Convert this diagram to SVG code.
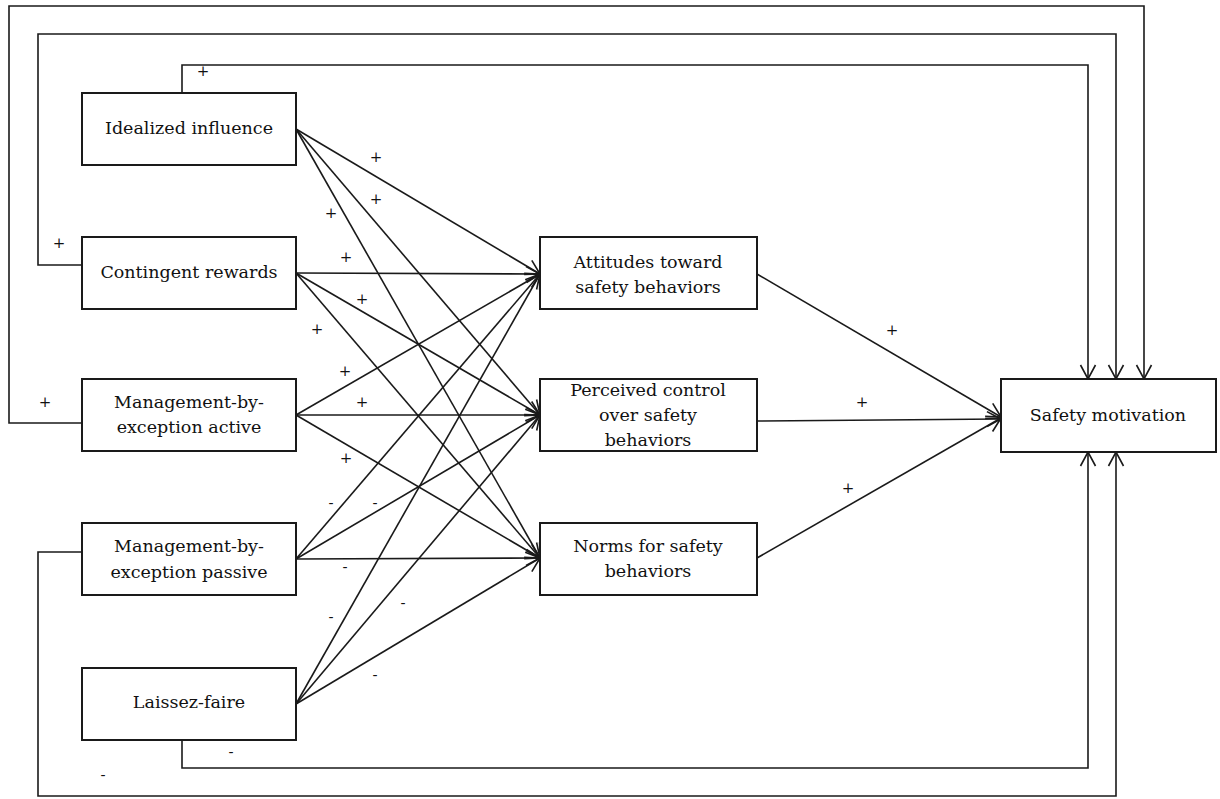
<svg xmlns="http://www.w3.org/2000/svg" width="1220" height="799" viewBox="0 0 1220 799">
<style>
.box{fill:#fff;stroke:#1a1a1a;stroke-width:2}
.t{font-family:"DejaVu Serif","Liberation Serif",serif;font-size:17.5px;fill:#111;text-anchor:middle}
.c{fill:none;stroke:#1a1a1a;stroke-width:1.6}
.a{marker-end:url(#arr)}
.s{font-family:"DejaVu Serif","Liberation Serif",serif;font-size:15px;fill:#111;text-anchor:middle}
</style>
<defs>
<marker id="arr" markerUnits="userSpaceOnUse" viewBox="0 0 16 18" markerWidth="16" markerHeight="18" refX="15" refY="9" orient="auto">
<path d="M1,1.5 L15,9 L1,16.5" fill="none" stroke="#1a1a1a" stroke-width="1.6"/>
</marker>
</defs>
<rect width="1220" height="799" fill="#fff"/>
<g id="connectors">
<polyline class="c a" points="182,93 182,65 1088,65 1088,379"/>
<polyline class="c a" points="82,265 38,265 38,34 1116,34 1116,379"/>
<polyline class="c a" points="82,423 9,423 9,6 1144,6 1144,379"/>
<polyline class="c a" points="182,740 182,768 1088,768 1088,452"/>
<polyline class="c a" points="82,552 38,552 38,796 1116,796 1116,452"/>
<line class="c a" x1="296" y1="129" x2="540" y2="274"/>
<line class="c a" x1="296" y1="129" x2="540" y2="415"/>
<line class="c a" x1="296" y1="129" x2="540" y2="558"/>
<line class="c a" x1="296" y1="273" x2="540" y2="274"/>
<line class="c a" x1="296" y1="273" x2="540" y2="415"/>
<line class="c a" x1="296" y1="273" x2="540" y2="558"/>
<line class="c a" x1="296" y1="415" x2="540" y2="274"/>
<line class="c a" x1="296" y1="415" x2="540" y2="415"/>
<line class="c a" x1="296" y1="415" x2="540" y2="558"/>
<line class="c a" x1="296" y1="559" x2="540" y2="274"/>
<line class="c a" x1="296" y1="559" x2="540" y2="415"/>
<line class="c a" x1="296" y1="559" x2="540" y2="558"/>
<line class="c a" x1="296" y1="704" x2="540" y2="274"/>
<line class="c a" x1="296" y1="704" x2="540" y2="415"/>
<line class="c a" x1="296" y1="704" x2="540" y2="558"/>
<line class="c a" x1="757" y1="274" x2="1001" y2="417"/>
<line class="c a" x1="757" y1="421" x2="1001" y2="419"/>
<line class="c a" x1="757" y1="558" x2="1001" y2="418"/>
<g id="signs">
<text class="s" x="203" y="76">+</text>
<text class="s" x="59" y="248">+</text>
<text class="s" x="45" y="407">+</text>
<text class="s" x="231" y="757">-</text>
<text class="s" x="103" y="780">-</text>
<text class="s" x="376" y="162">+</text>
<text class="s" x="376" y="204">+</text>
<text class="s" x="331" y="218">+</text>
<text class="s" x="346" y="262">+</text>
<text class="s" x="362" y="304">+</text>
<text class="s" x="317" y="334">+</text>
<text class="s" x="345" y="376">+</text>
<text class="s" x="362" y="407">+</text>
<text class="s" x="346" y="463">+</text>
<text class="s" x="331" y="508">-</text>
<text class="s" x="375" y="508">-</text>
<text class="s" x="345" y="572">-</text>
<text class="s" x="403" y="608">-</text>
<text class="s" x="331" y="622">-</text>
<text class="s" x="375" y="680">-</text>
<text class="s" x="892" y="335">+</text>
<text class="s" x="862" y="407">+</text>
<text class="s" x="848" y="493">+</text>
</g>
</g>
<g id="idealized">
<rect class="box" x="82" y="93" width="214" height="72"/>
<text class="t" x="189" y="134">Idealized influence</text>
</g>
<g id="contingent">
<rect class="box" x="82" y="237" width="214" height="72"/>
<text class="t" x="189" y="278">Contingent rewards</text>
</g>
<g id="mbe-active">
<rect class="box" x="82" y="379" width="214" height="72"/>
<text class="t" x="189" y="408">Management-by-</text>
<text class="t" x="189" y="433">exception active</text>
</g>
<g id="mbe-passive">
<rect class="box" x="82" y="523" width="214" height="72"/>
<text class="t" x="189" y="552">Management-by-</text>
<text class="t" x="189" y="578">exception passive</text>
</g>
<g id="laissez">
<rect class="box" x="82" y="668" width="214" height="72"/>
<text class="t" x="189" y="708">Laissez-faire</text>
</g>
<g id="attitudes">
<rect class="box" x="540" y="237" width="217" height="72"/>
<text class="t" x="648" y="268">Attitudes toward</text>
<text class="t" x="648" y="293">safety behaviors</text>
</g>
<g id="perceived">
<rect class="box" x="540" y="379" width="217" height="72"/>
<text class="t" x="648" y="396">Perceived control</text>
<text class="t" x="648" y="421">over safety</text>
<text class="t" x="648" y="446">behaviors</text>
</g>
<g id="norms">
<rect class="box" x="540" y="523" width="217" height="72"/>
<text class="t" x="648" y="552">Norms for safety</text>
<text class="t" x="648" y="577">behaviors</text>
</g>
<g id="safety">
<rect class="box" x="1001" y="379" width="215" height="73"/>
<text class="t" x="1108" y="421">Safety motivation</text>
</g>
</svg>
